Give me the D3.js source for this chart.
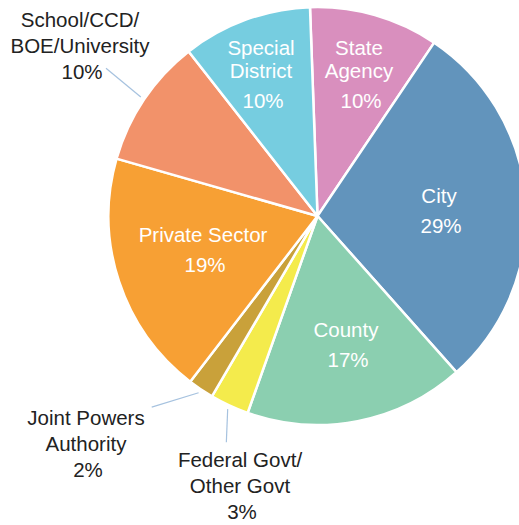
<!DOCTYPE html>
<html>
<head>
<meta charset="utf-8">
<script src="https://cdn.jsdelivr.net/npm/d3@7"></script>
<style>
  body { margin: 0; background: #fff; }
  svg { display: block; }
  text { font-family: "Liberation Sans", Arial, Helvetica, sans-serif; font-size: 20.5px; }
</style>
</head>
<body>
<svg id="chart" width="519" height="525"></svg>
<script>
// Share of respondents by agency type (percent)
const categories = ["State Agency", "City", "County", "Federal Govt/Other Govt",
  "Joint Powers Authority", "Private Sector", "School/CCD/BOE/University", "Special District"];
const shares = [10, 29, 17, 3, 2, 19, 10, 10];
const sliceColors = ["#d98fbe", "#6294bc", "#8bcfb0", "#f4eb4c", "#c9a13a", "#f7a034", "#f2926a", "#76cde0"];
const labelLines = [["State", "Agency"], ["City"], ["County"], ["Federal Govt/", "Other Govt"],
  ["Joint Powers", "Authority"], ["Private Sector"], ["School/CCD/", "BOE/University"], ["Special", "District"]];

// Label placement: anchor x, first baseline, outside (dark text + leader) or inside (white text)
const labelLayout = [
  { x: 359, y: 55,  outside: false },
  { x: 439, y: 203, outside: false },
  { x: 346, y: 337, outside: false },
  { x: 240, y: 467, outside: true, leaderTurn: -3, leaderLen: 244 },
  { x: 86,  y: 425, outside: true, leaderTurn: 7,  leaderLen: 253 },
  { x: 203, y: 242, outside: false },
  { x: 80,  y: 27,  outside: true, leaderTurn: 1,  leaderLen: 258 },
  { x: 261, y: 55,  outside: false }
];

const data = categories.map((c, i) => ({
  category: c, value: shares[i], color: sliceColors[i], lines: labelLines[i], layout: labelLayout[i]
}));

const svg = d3.select("#chart");
const cx = 317.5, cy = 216, radius = 209;
const startAngle = -0.036;

const pie = d3.pie()
  .sort(null)
  .value(d => d.value)
  .startAngle(startAngle)
  .endAngle(startAngle + 2 * Math.PI);

const arc = d3.arc().innerRadius(0).outerRadius(radius);
const arcs = pie(data);

const g = svg.append("g").attr("transform", `translate(${cx},${cy})`);

g.selectAll("path.slice")
  .data(arcs)
  .join("path")
  .attr("class", "slice")
  .attr("d", arc)
  .attr("fill", d => d.data.color)
  .attr("stroke", "#fff")
  .attr("stroke-width", 2.5)
  .attr("stroke-linejoin", "round");

// Leader lines for the small / outside-labelled slices
const polar = (ang, r) => [r * Math.sin(ang), -r * Math.cos(ang)];
arcs.filter(d => d.data.layout.outside).forEach(d => {
  const mid = (d.startAngle + d.endAngle) / 2;
  const p0 = polar(mid, radius + 4);
  const p1 = polar(mid + d.data.layout.leaderTurn * Math.PI / 180, d.data.layout.leaderLen);
  g.append("line")
    .attr("x1", p0[0]).attr("y1", p0[1])
    .attr("x2", p1[0]).attr("y2", p1[1])
    .attr("stroke", "#a6c2df")
    .attr("stroke-width", 1.2);
});

// Labels
const labels = svg.append("g");
data.forEach(d => {
  const L = d.layout;
  const t = labels.append("text")
    .attr("text-anchor", "middle")
    .attr("fill", L.outside ? "#222" : "#fff");
  const nameStep = L.outside ? 26 : 23;
  const pctStep = L.outside ? 26 : 30;
  d.lines.forEach((line, i) => {
    t.append("tspan").attr("x", L.x).attr("y", L.y + i * nameStep).text(line);
  });
  t.append("tspan")
    .attr("x", L.x + 2)
    .attr("y", L.y + (d.lines.length - 1) * nameStep + pctStep)
    .text(d.value + "%");
});
</script>
</body>
</html>
